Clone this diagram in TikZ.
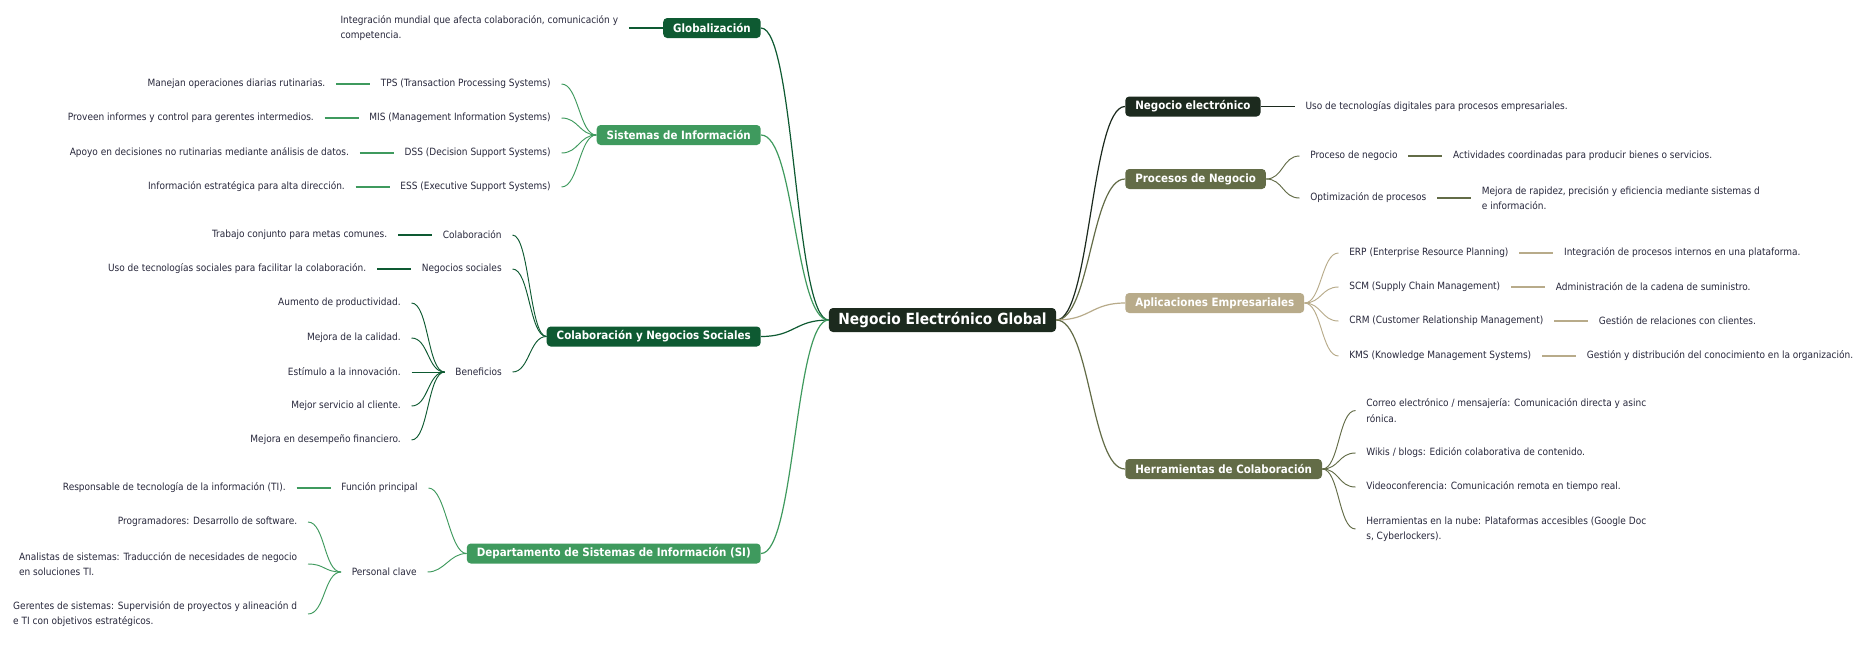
\documentclass[tikz,border=0pt]{standalone}
\usepackage{fontspec}
\setmainfont{DejaVu Sans Condensed}
\usetikzlibrary{positioning}
\definecolor{rootc}{RGB}{28,42,30}
\definecolor{darkg}{RGB}{14,90,50}
\definecolor{midg}{RGB}{63,154,94}
\definecolor{olivec}{RGB}{99,108,71}
\definecolor{tanc}{RGB}{184,171,138}
\definecolor{inkc}{RGB}{40,40,60}

\begin{document}
\begin{tikzpicture}[x=0.75pt,y=0.75pt,yscale=-1,
	every node/.style={font=\fontsize{7.5}{11.6}\selectfont},
	node distance=25.5pt,
	topic/.style={fill=#1, text=white, rounded corners=3pt, font=\bfseries\fontsize{8.6}{10}\selectfont, inner xsep=7.5pt, inner ysep=2pt, minimum height=15pt},
	leaf/.style={text=inkc, inner xsep=7.9pt, inner ysep=1pt, align=left},
	wire/.style={to path={.. controls +(17,0) and +(-17,0) .. (\tikztotarget)}},
	trunk/.style={to path={.. controls +(34,0) and +(-34,0) .. (\tikztotarget)}}]
	\fill[white] (0,0) rectangle (1862,668);
	\useasboundingbox (0,0) rectangle (1862,668);

	% Root
	\node[topic=rootc, font=\bfseries\fontsize{11.5}{13}\selectfont, minimum height=18pt, inner xsep=7pt] (root) at (942.5,320) {Negocio Electrónico Global};

	% Globalizacion
	\node[topic=darkg, anchor=east] (glob) at (761,28) {Globalización};
	\node[leaf, left=of glob] (globd) {Integración mundial que afecta colaboración, comunicación y\\competencia.};
	\draw[darkg, line width=0.9pt] (globd.east) -- (glob.west);
	\draw[darkg, line width=0.9pt] (glob.east) to[trunk] (root.west);

	% Sistemas de Informacion
	\node[topic=midg, anchor=east] (sis) at (761,135) {Sistemas de Información};
	\node[leaf, anchor=east] (tps) at (561.5,84) {TPS (Transaction Processing Systems)};
	\node[leaf, left=of tps] (tpsd) {Manejan operaciones diarias rutinarias.};
	\node[leaf, anchor=east] (mis) at (561.5,118) {MIS (Management Information Systems)};
	\node[leaf, left=of mis] (misd) {Proveen informes y control para gerentes intermedios.};
	\node[leaf, anchor=east] (dss) at (561.5,153) {DSS (Decision Support Systems)};
	\node[leaf, left=of dss] (dssd) {Apoyo en decisiones no rutinarias mediante análisis de datos.};
	\node[leaf, anchor=east] (ess) at (561.5,187) {ESS (Executive Support Systems)};
	\node[leaf, left=of ess] (essd) {Información estratégica para alta dirección.};
	\draw[midg, line width=0.9pt] (sis.east) to[trunk] (root.west);
	\draw[midg, line width=0.7pt] (tps.east) to[wire] (sis.west);
	\draw[midg, line width=0.7pt] (mis.east) to[wire] (sis.west);
	\draw[midg, line width=0.7pt] (dss.east) to[wire] (sis.west);
	\draw[midg, line width=0.7pt] (ess.east) to[wire] (sis.west);
	\draw[midg, line width=0.9pt] (tpsd.east) -- (tps.west);
	\draw[midg, line width=0.9pt] (misd.east) -- (mis.west);
	\draw[midg, line width=0.9pt] (dssd.east) -- (dss.west);
	\draw[midg, line width=0.9pt] (essd.east) -- (ess.west);

	% Colaboracion y Negocios Sociales
	\node[topic=darkg, anchor=east] (colab) at (761,336.5) {Colaboración y Negocios Sociales};
	\node[leaf, anchor=east] (colc) at (512.5,235) {Colaboración};
	\node[leaf, left=of colc] (colcd) {Trabajo conjunto para metas comunes.};
	\node[leaf, anchor=east] (negs) at (512.5,269) {Negocios sociales};
	\node[leaf, left=of negs] (negsd) {Uso de tecnologías sociales para facilitar la colaboración.};
	\node[leaf, anchor=east] (ben) at (512.5,372) {Beneficios};
	\node[leaf, anchor=east] (ben1) at (411.5,303) {Aumento de productividad.};
	\node[leaf, anchor=east] (ben2) at (411.5,338) {Mejora de la calidad.};
	\node[leaf, anchor=east] (ben3) at (411.5,372) {Estímulo a la innovación.};
	\node[leaf, anchor=east] (ben4) at (411.5,406) {Mejor servicio al cliente.};
	\node[leaf, anchor=east] (ben5) at (411.5,440) {Mejora en desempeño financiero.};
	\draw[darkg, line width=0.9pt] (colab.east) to[trunk] (root.west);
	\draw[darkg, line width=0.7pt] (colc.east) to[wire] (colab.west);
	\draw[darkg, line width=0.7pt] (negs.east) to[wire] (colab.west);
	\draw[darkg, line width=0.7pt] (ben.east) to[wire] (colab.west);
	\draw[darkg, line width=0.9pt] (colcd.east) -- (colc.west);
	\draw[darkg, line width=0.9pt] (negsd.east) -- (negs.west);
	\draw[darkg, line width=0.7pt] (ben1.east) to[wire] (ben.west);
	\draw[darkg, line width=0.7pt] (ben2.east) to[wire] (ben.west);
	\draw[darkg, line width=0.7pt] (ben3.east) to[wire] (ben.west);
	\draw[darkg, line width=0.7pt] (ben4.east) to[wire] (ben.west);
	\draw[darkg, line width=0.7pt] (ben5.east) to[wire] (ben.west);

	% Departamento de SI
	\node[topic=midg, anchor=east] (depto) at (761,553.5) {Departamento de Sistemas de Información (SI)};
	\node[leaf, anchor=east] (func) at (428.5,488) {Función principal};
	\node[leaf, left=of func] (funcd) {Responsable de tecnología de la información (TI).};
	\node[leaf, anchor=east] (pers) at (427.5,572) {Personal clave};
	\node[leaf, anchor=east] (prog) at (308,522) {Programadores: Desarrollo de software.};
	\node[leaf, anchor=east] (anal) at (308,564) {Analistas de sistemas: Traducción de necesidades de negocio\\en soluciones TI.};
	\node[leaf, anchor=east] (ger) at (308,614) {Gerentes de sistemas: Supervisión de proyectos y alineación d\\e TI con objetivos estratégicos.};
	\draw[midg, line width=0.9pt] (depto.east) to[trunk] (root.west);
	\draw[midg, line width=0.7pt] (func.east) to[wire] (depto.west);
	\draw[midg, line width=0.7pt] (pers.east) to[wire] (depto.west);
	\draw[midg, line width=0.9pt] (funcd.east) -- (func.west);
	\draw[midg, line width=0.7pt] (prog.east) to[wire] (pers.west);
	\draw[midg, line width=0.7pt] (anal.east) to[wire] (pers.west);
	\draw[midg, line width=0.7pt] (ger.east) to[wire] (pers.west);

	% Negocio electronico
	\node[topic=rootc, anchor=west] (neg) at (1125,106.5) {Negocio electrónico};
	\node[leaf, right=of neg] (negd) {Uso de tecnologías digitales para procesos empresariales.};
	\draw[rootc, line width=0.9pt] (root.east) to[trunk] (neg.west);
	\draw[rootc, line width=0.9pt] (neg.east) -- (negd.west);

	% Procesos de Negocio
	\node[topic=olivec, anchor=west] (proc) at (1125,179) {Procesos de Negocio};
	\node[leaf, anchor=west] (pn) at (1299.5,156) {Proceso de negocio};
	\node[leaf, right=of pn] (pnd) {Actividades coordinadas para producir bienes o servicios.};
	\node[leaf, anchor=west] (opt) at (1299.5,198) {Optimización de procesos};
	\node[leaf, right=of opt] (optd) {Mejora de rapidez, precisión y eficiencia mediante sistemas d\\e información.};
	\draw[olivec, line width=0.9pt] (root.east) to[trunk] (proc.west);
	\draw[olivec, line width=0.7pt] (proc.east) to[wire] (pn.west);
	\draw[olivec, line width=0.7pt] (proc.east) to[wire] (opt.west);
	\draw[olivec, line width=0.9pt] (pn.east) -- (pnd.west);
	\draw[olivec, line width=0.9pt] (opt.east) -- (optd.west);

	% Aplicaciones Empresariales
	\node[topic=tanc, anchor=west] (apl) at (1125,303) {Aplicaciones Empresariales};
	\node[leaf, anchor=west] (erp) at (1338.5,253) {ERP (Enterprise Resource Planning)};
	\node[leaf, right=of erp] (erpd) {Integración de procesos internos en una plataforma.};
	\node[leaf, anchor=west] (scm) at (1338.5,287) {SCM (Supply Chain Management)};
	\node[leaf, right=of scm] (scmd) {Administración de la cadena de suministro.};
	\node[leaf, anchor=west] (crm) at (1338.5,321) {CRM (Customer Relationship Management)};
	\node[leaf, right=of crm] (crmd) {Gestión de relaciones con clientes.};
	\node[leaf, anchor=west] (kms) at (1338.5,356) {KMS (Knowledge Management Systems)};
	\node[leaf, right=of kms] (kmsd) {Gestión y distribución del conocimiento en la organización.};
	\draw[tanc, line width=0.9pt] (root.east) to[trunk] (apl.west);
	\draw[tanc, line width=0.7pt] (apl.east) to[wire] (erp.west);
	\draw[tanc, line width=0.7pt] (apl.east) to[wire] (scm.west);
	\draw[tanc, line width=0.7pt] (apl.east) to[wire] (crm.west);
	\draw[tanc, line width=0.7pt] (apl.east) to[wire] (kms.west);
	\draw[tanc, line width=0.9pt] (erp.east) -- (erpd.west);
	\draw[tanc, line width=0.9pt] (scm.east) -- (scmd.west);
	\draw[tanc, line width=0.9pt] (crm.east) -- (crmd.west);
	\draw[tanc, line width=0.9pt] (kms.east) -- (kmsd.west);

	% Herramientas de Colaboracion
	\node[topic=olivec, anchor=west] (herr) at (1125,469) {Herramientas de Colaboración};
	\node[leaf, anchor=west] (mail) at (1355.5,410.5) {Correo electrónico / mensajería: Comunicación directa y asinc\\rónica.};
	\node[leaf, anchor=west] (wiki) at (1355.5,453) {Wikis / blogs: Edición colaborativa de contenido.};
	\node[leaf, anchor=west] (video) at (1355.5,487) {Videoconferencia: Comunicación remota en tiempo real.};
	\node[leaf, anchor=west] (nube) at (1355.5,529) {Herramientas en la nube: Plataformas accesibles (Google Doc\\s, Cyberlockers).};
	\draw[olivec, line width=0.9pt] (root.east) to[trunk] (herr.west);
	\draw[olivec, line width=0.7pt] (herr.east) to[wire] (mail.west);
	\draw[olivec, line width=0.7pt] (herr.east) to[wire] (wiki.west);
	\draw[olivec, line width=0.7pt] (herr.east) to[wire] (video.west);
	\draw[olivec, line width=0.7pt] (herr.east) to[wire] (nube.west);
\end{tikzpicture}
\end{document}
